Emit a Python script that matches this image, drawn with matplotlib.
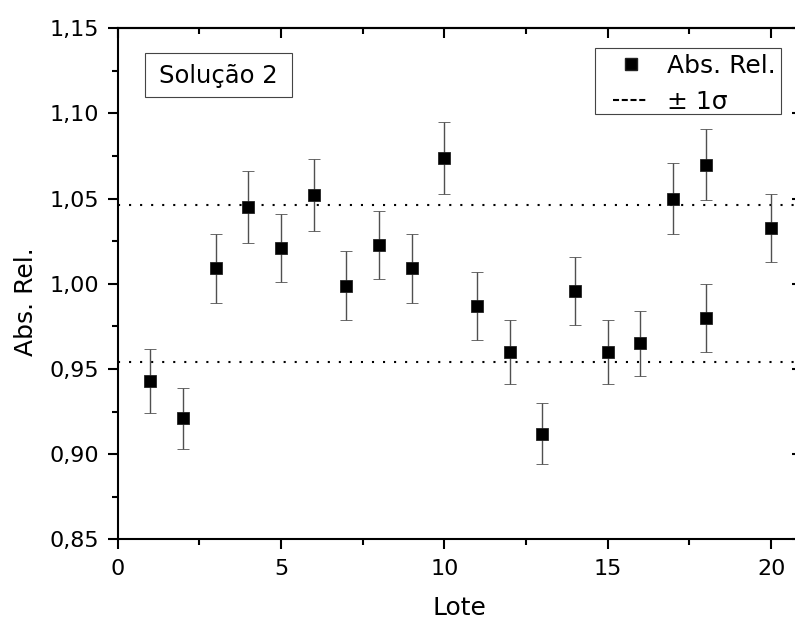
import matplotlib
matplotlib.use("Agg")
import matplotlib.pyplot as plt
from matplotlib.lines import Line2D
from matplotlib.patches import Rectangle
from matplotlib.ticker import MultipleLocator

# --- data -------------------------------------------------------------
lote = [1, 2, 3, 4, 5, 6, 7, 8, 9, 10, 11, 12, 13, 14, 15, 16, 17, 18, 18, 20]
abs_rel = [0.943, 0.921, 1.009, 1.045, 1.021, 1.052, 0.999, 1.023, 1.009, 1.074,
           0.987, 0.960, 0.912, 0.996, 0.960, 0.965, 1.050, 1.070, 0.980, 1.033]
abs_err = [0.019, 0.018, 0.020, 0.021, 0.020, 0.021, 0.020, 0.020, 0.020, 0.021,
           0.020, 0.019, 0.018, 0.020, 0.019, 0.019, 0.021, 0.021, 0.020, 0.020]
sigma_upper = 1.046
sigma_lower = 0.954

ytick_values = [0.85, 0.90, 0.95, 1.00, 1.05, 1.10, 1.15]
ytick_labels = ["0,85", "0,90", "0,95", "1,00", "1,05", "1,10", "1,15"]
xtick_values = [0, 5, 10, 15, 20]
xtick_labels = ["0", "5", "10", "15", "20"]

# --- figure -----------------------------------------------------------
W, H = 795, 621
plt.rcParams["font.family"] = ["DejaVu Sans"]
fig = plt.figure(figsize=(W / 100, H / 100), dpi=100)


def fx(px):
    return px / W


def fy(py):
    return 1 - py / H


left_px, right_px, top_px, bottom_px = 117.7, 802.0, 28.3, 539.3
ax = fig.add_axes([fx(left_px), fy(bottom_px),
                   (right_px - left_px) / W, (bottom_px - top_px) / H])

ax.set_xlim(0, (right_px - left_px) / 32.67)
ax.set_ylim(0.85, 1.15)

# sigma band limits
dots = (0, (1, 4.3))
ax.axhline(sigma_upper, color="black", lw=1.5, ls=dots)
ax.axhline(sigma_lower, color="black", lw=1.5, ls=dots)

ax.errorbar(lote, abs_rel, yerr=abs_err, fmt="s", color="black",
            ms=8.0, mec="#222222", mew=0.6,
            ecolor="#505050", elinewidth=1.0, capsize=4.1, capthick=1.0,
            zorder=3)

# spines and ticks
for side in ("left", "bottom", "top", "right"):
    ax.spines[side].set_linewidth(1.5)

ax.set_xticks(xtick_values)
ax.set_xticklabels(xtick_labels)
ax.set_yticks(ytick_values)
ax.set_yticklabels(ytick_labels)
ax.xaxis.set_minor_locator(MultipleLocator(2.5))
ax.yaxis.set_minor_locator(MultipleLocator(0.025))
ax.tick_params(which="major", direction="out", length=7.2, width=1.5,
               labelsize=16, top=False, right=False)
ax.tick_params(which="minor", direction="out", length=4.3, width=1.5,
               top=False, right=False)
ax.tick_params(axis="x", which="major", pad=7)
ax.tick_params(axis="y", which="major", pad=6)

# inward ticks on the top and right edges
top = ax.secondary_xaxis("top")
top.set_xticks(xtick_values)
top.xaxis.set_minor_locator(MultipleLocator(2.5))
top.tick_params(which="major", direction="in", length=7.2, width=1.5, labeltop=False)
top.tick_params(which="minor", direction="in", length=4.3, width=1.5)
top.spines["top"].set_linewidth(1.5)

right = ax.secondary_yaxis("right")
right.set_yticks(ytick_values)
right.yaxis.set_minor_locator(MultipleLocator(0.025))
right.tick_params(which="major", direction="in", length=7.2, width=1.5, labelright=False)
right.tick_params(which="minor", direction="in", length=4.3, width=1.5)
right.spines["right"].set_linewidth(1.5)

ax.set_xlabel("Lote", fontsize=18, labelpad=12)
ax.set_ylabel("Abs. Rel.", fontsize=18)
ax.yaxis.set_label_coords((38 - left_px) / (right_px - left_px),
                          (bottom_px - 301.7) / (bottom_px - top_px))


def framed_box(x0, y0, x1, y1):
    fig.add_artist(Rectangle((fx(x0), fy(y1)), (x1 - x0) / W, (y1 - y0) / H,
                             transform=fig.transFigure, fill=False,
                             edgecolor="#444444", lw=0.8, zorder=5))


# sample label box
framed_box(145, 53, 291.7, 96.7)
fig.text(fx(218.3), fy(75.5), "Solução 2", fontsize=17.5,
         ha="center", va="center")

# legend box
framed_box(595, 48, 781, 114)
handles = [
    Line2D([], [], marker="s", ls="none", color="black", ms=8.0, mec="#222222"),
    Line2D([], [], ls=(0, (2.9, 1.3)), color="black", lw=1.5),
]
fig.legend(handles, ["Abs. Rel.", "± 1σ"], loc="upper left",
           bbox_to_anchor=(fx(613), fy(54)), frameon=False, fontsize=18,
           borderpad=0, borderaxespad=0, handlelength=1.4, handletextpad=0.75,
           labelspacing=0.47)

fig.savefig("out.png", dpi=100)
